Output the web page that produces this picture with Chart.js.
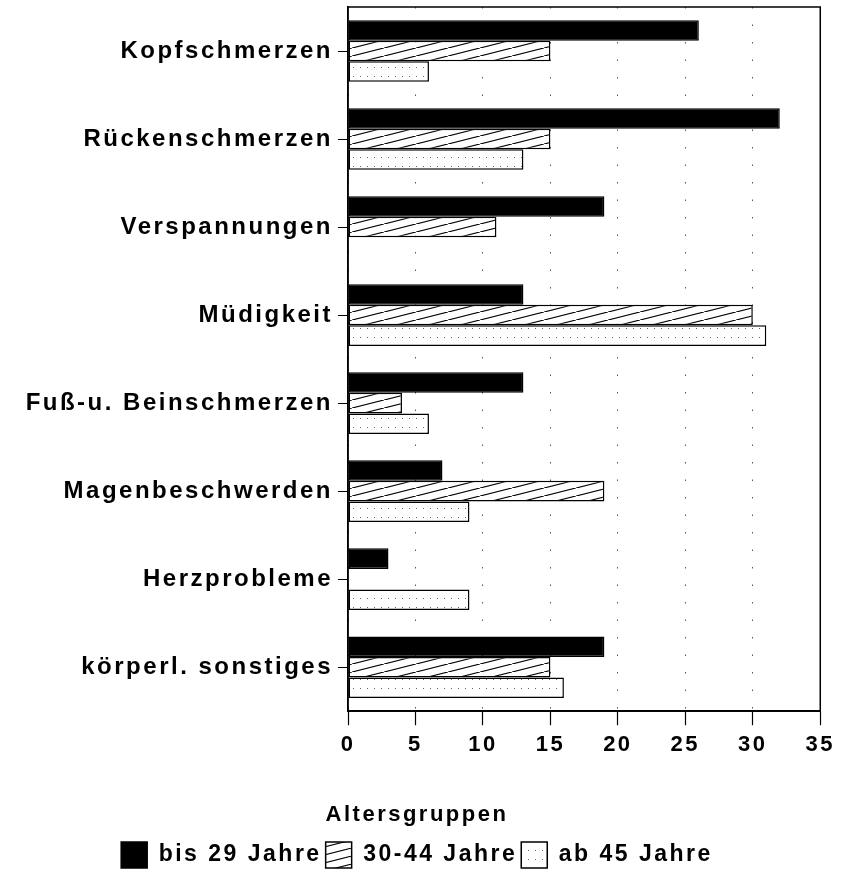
<!DOCTYPE html>
<html>
<head>
<meta charset="utf-8">
<script src="https://cdn.jsdelivr.net/npm/chart.js@4"></script>
<style>
body{margin:0;background:#fff;}
#wrap{width:842px;height:872px;}
</style>
</head>
<body>
<div id="wrap"><canvas id="chart" width="842" height="872"></canvas></div>
<script>
const kategorien=["Kopfschmerzen","Rückenschmerzen","Verspannungen","Müdigkeit","Fuß-u. Beinschmerzen","Magenbeschwerden","Herzprobleme","körperl. sonstiges"];
const bis29=[26,32,19,13,13,7,3,19];
const von30bis44=[15,15,11,30,4,19,0,15];
const ab45=[6,13,0,31,6,9,9,16];
const gruppen=["bis 29 Jahre","30-44 Jahre","ab 45 Jahre"];
const legendTitel="Altersgruppen";

Chart.defaults.font.family="'Liberation Sans', Arial, sans-serif";
Chart.defaults.font.weight="bold";
Chart.defaults.color="#000";

function schraffur(){
 let c=document.createElement("canvas");
 c.width=32;c.height=8;
 let x=c.getContext("2d");
 x.fillStyle="#fff";x.fillRect(0,0,32,8);
 x.strokeStyle="#000";x.lineWidth=1.2;
 x.beginPath();x.moveTo(-4,9);x.lineTo(36,-1);x.stroke();
 return x.createPattern(c,"repeat");
}
function punkte(){
 let c=document.createElement("canvas");
 c.width=7;c.height=9;
 let x=c.getContext("2d");
 x.fillStyle="#fff";x.fillRect(0,0,7,9);
 x.fillStyle="#666";x.fillRect(3,4,1,1);
 return x.createPattern(c,"repeat");
}

// breite Schrift wie im Original
const sperrung={
 id:"sperrung",
 beforeUpdate(chart){chart.ctx.letterSpacing="2.5px";},
 beforeLayout(chart){chart.ctx.letterSpacing="2.5px";},
 beforeDraw(chart){chart.ctx.letterSpacing="2.5px";}
};

const rahmen={
 id:"rahmen",
 afterDraw(chart){
  let a=chart.chartArea,ctx=chart.ctx;
  ctx.save();ctx.strokeStyle="#000";ctx.lineWidth=1.5;
  ctx.strokeRect(a.left,a.top,a.right-a.left,a.bottom-a.top);
  ctx.restore();
 }
};

new Chart(document.getElementById("chart"),{
 type:"bar",
 data:{
  labels:kategorien,
  datasets:[
   {label:gruppen[0],data:bis29,backgroundColor:"#000",borderColor:"#000",borderWidth:1.5,borderSkipped:false},
   {label:gruppen[1],data:von30bis44,backgroundColor:schraffur(),borderColor:"#000",borderWidth:1.5,borderSkipped:false},
   {label:gruppen[2],data:ab45,backgroundColor:punkte(),borderColor:"#000",borderWidth:1.5,borderSkipped:false}
  ]
 },
 options:{
  indexAxis:"y",
  responsive:false,
  animation:false,
  layout:{padding:{top:7,right:8,left:0,bottom:-6}},
  datasets:{bar:{categoryPercentage:0.7,barPercentage:1}},
  scales:{
   x:{
    min:0,max:35,
    ticks:{stepSize:5,font:{size:22},padding:7},
    grid:{color:"#555",lineWidth:1,tickLength:14,tickColor:"#000",tickBorderDash:[],tickWidth:1.2},
    border:{display:true,color:"#000",width:1.5,dash:[1.5,16]}
   },
   y:{
    ticks:{font:{size:24},padding:5},
    grid:{drawOnChartArea:false,offset:false,tickLength:10,color:"#000",lineWidth:1},
    border:{display:true,color:"#000",width:1.5},
    afterFit(s){s.width=348;s.paddingTop=0;s.paddingBottom=0;}
   }
  },
  plugins:{
   tooltip:{enabled:false},
   legend:{
    position:"bottom",
    title:{display:true,text:legendTitel,font:{size:22},padding:{top:38,bottom:8}},
    labels:{boxWidth:26,boxHeight:26,padding:4,font:{size:23}}
   }
  }
 },
 plugins:[sperrung,rahmen]
});
</script>
</body>
</html>
